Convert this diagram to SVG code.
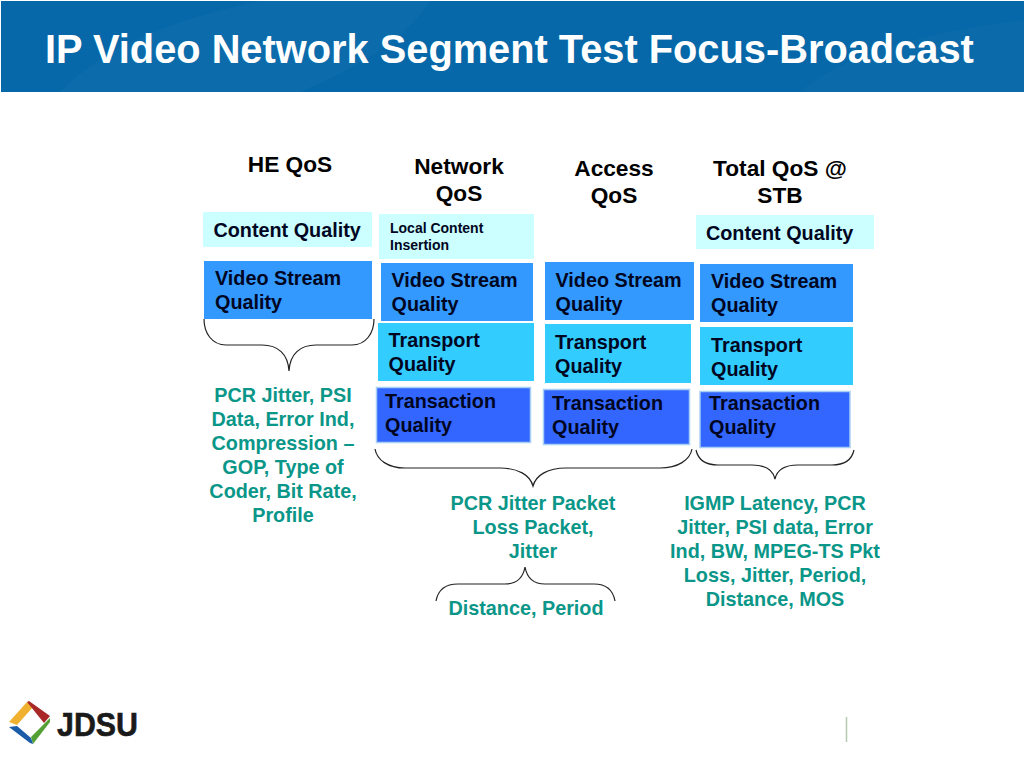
<svg xmlns="http://www.w3.org/2000/svg" width="1024" height="768" viewBox="0 0 1024 768">
<style>
text{font-family:"Liberation Sans",Arial,sans-serif;font-weight:700}
.h{font-size:22.7px;fill:#000;text-anchor:middle}
.b{font-size:19.8px;fill:#000622}
.g{font-size:19.8px;fill:#0a9688;text-anchor:middle}
.c{fill:#ccffff}
.v{fill:#3399ff}
.t{fill:#33ccff}
.q{fill:#3366ff;stroke:#a8d0f5;stroke-width:1.5}
.br{fill:none;stroke:#222;stroke-width:1.2}
</style>
<rect width="1024" height="768" fill="#fff"/>
<g id="header">
<rect x="1" y="1" width="1023" height="91" fill="#0668a8"/>
<path d="M60 92Q120 30 260 1H430Q400 50 300 92Z" fill="#1673b0" opacity=".4"/>
<path d="M800 92Q860 40 1024 20V92Z" fill="#1673b0" opacity=".3"/>
<text x="45" y="62.500" font-size="39.800" fill="#fff">IP Video Network Segment Test Focus-Broadcast</text>
</g>
<g id="col-he">
<text class="h" x="290" y="172">HE QoS</text>
<rect class="c" x="203" y="212" width="169" height="35"/>
<text class="b" x="213.500" y="237">Content Quality</text>
<rect class="v" x="204" y="261" width="168" height="58"/>
<text class="b" x="215" y="285">Video Stream</text><text class="b" x="215" y="309">Quality</text>
</g>
<g id="col-network">
<text class="h" x="459" y="174">Network</text><text class="h" x="459" y="201">QoS</text>
<rect class="c" x="379" y="214" width="155" height="45"/>
<text x="390" y="233" font-size="14" fill="#000622">Local Content</text><text x="390" y="250" font-size="14" fill="#000622">Insertion</text>
<rect class="v" x="381" y="263" width="152" height="58"/>
<text class="b" x="391.500" y="287">Video Stream</text><text class="b" x="391.500" y="311">Quality</text>
<rect class="t" x="378" y="323" width="156" height="58"/>
<text class="b" x="388.500" y="347">Transport</text><text class="b" x="388.500" y="371">Quality</text>
<rect class="q" x="376.500" y="387.500" width="154" height="55"/>
<text class="b" x="385" y="408">Transaction</text><text class="b" x="385" y="432">Quality</text>
</g>
<g id="col-access">
<text class="h" x="614" y="176">Access</text><text class="h" x="614" y="203">QoS</text>
<rect class="v" x="545" y="262" width="149" height="58"/>
<text class="b" x="555.500" y="287">Video Stream</text><text class="b" x="555.500" y="311">Quality</text>
<rect class="t" x="545" y="324" width="146" height="59"/>
<text class="b" x="555" y="349">Transport</text><text class="b" x="555" y="373">Quality</text>
<rect class="q" x="543.500" y="389.500" width="146" height="55"/>
<text class="b" x="552" y="410">Transaction</text><text class="b" x="552" y="434">Quality</text>
</g>
<g id="col-total">
<text class="h" x="780" y="176">Total QoS @</text><text class="h" x="780" y="203">STB</text>
<rect class="c" x="696" y="215" width="178" height="34"/>
<text class="b" x="706" y="240">Content Quality</text>
<rect class="v" x="700" y="264" width="153" height="58"/>
<text class="b" x="711" y="288">Video Stream</text><text class="b" x="711" y="312">Quality</text>
<rect class="t" x="700" y="327" width="153" height="58"/>
<text class="b" x="711" y="352">Transport</text><text class="b" x="711" y="376">Quality</text>
<rect class="q" x="700" y="391.500" width="150" height="56"/>
<text class="b" x="709" y="410">Transaction</text><text class="b" x="709" y="434">Quality</text>
</g>
<g id="connectors">
<path class="br" d="M204 319C204 333 212 345 226 345H262C278 345 288 354 289 371C290 354 300 345 316 345H352C366 345 374 333 374 319"/>
<path class="br" d="M375 449C377 460 388 468 405 468H500C518 468 530 475 533 486C536 475 548 468 566 468H660C678 468 690 460 692 449"/>
<path class="br" d="M696 450C698 459 705 465 718 465H752C765 465 773 470 775 479C777 470 785 465 798 465H832C845 465 852 459 854 450"/>
<path class="br" d="M436 601C438 590 446 584 458 584H505C516 584 523 578 525 567C527 578 534 584 545 584H594C606 584 613 590 615 601"/>
</g>
<g id="label-he">
<text class="g" x="283" y="402">PCR Jitter, PSI</text><text class="g" x="283" y="426">Data, Error Ind,</text><text class="g" x="283" y="450">Compression –</text><text class="g" x="283" y="474">GOP, Type of</text><text class="g" x="283" y="498">Coder, Bit Rate,</text><text class="g" x="283" y="522">Profile</text>
</g>
<g id="label-network">
<text class="g" x="533" y="510">PCR Jitter Packet</text><text class="g" x="533" y="534">Loss Packet,</text><text class="g" x="533" y="558">Jitter</text>
</g>
<g id="label-distance"><text class="g" x="526" y="615">Distance, Period</text></g>
<g id="label-total">
<text class="g" x="775" y="510">IGMP Latency, PCR</text><text class="g" x="775" y="534">Jitter, PSI data, Error</text><text class="g" x="775" y="558">Ind, BW, MPEG-TS Pkt</text><text class="g" x="775" y="582">Loss, Jitter, Period,</text><text class="g" x="775" y="606">Distance, MOS</text>
</g>
<g id="logo">
<path d="M9 722L27 702L33 707L17 725Z" fill="#f0b030"/>
<path d="M27 702L29 701L50 716L44 723Z" fill="#a82828"/>
<path d="M50 718L50 722L33 744L31 737L44 724Z" fill="#55a035"/>
<path d="M9 727L17 726L31 738L33 744L30 743Z" fill="#1a5ca8"/>
<text x="57" y="736" font-size="34" fill="#1a1a1a" stroke="#1a1a1a" stroke-width=".6" textLength="81" lengthAdjust="spacingAndGlyphs">JDSU</text>
</g>
<path id="footer-rule" d="M846.500 717V742" stroke="#b5c9b0" stroke-width="1.500"/>
</svg>
